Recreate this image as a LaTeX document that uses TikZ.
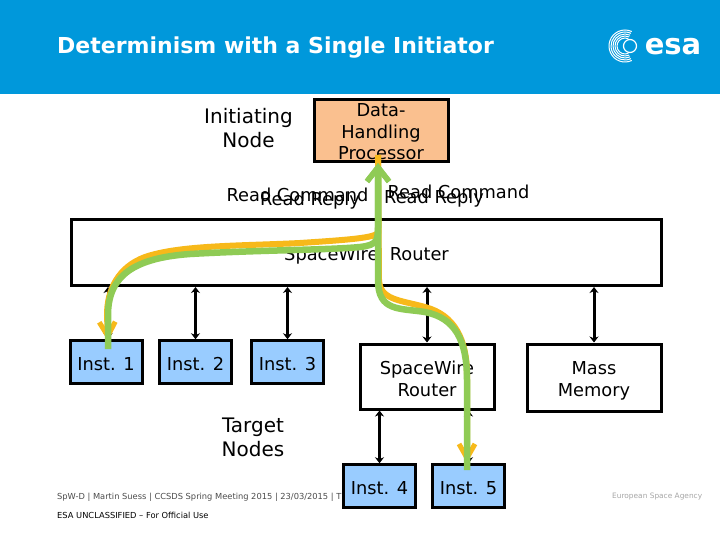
\documentclass[tikz,border=0pt]{standalone}
\usepackage{fontspec}
\setmainfont{DejaVu Sans}
\usetikzlibrary{arrows.meta}
\definecolor{hdr}{HTML}{0098DB}
\definecolor{dhpfill}{HTML}{FAC08F}
\definecolor{instfill}{HTML}{99CCFF}
\definecolor{orangeline}{HTML}{F7B91A}
\definecolor{greenline}{HTML}{8FCB55}
\newcommand{\dn}[1]{\rule{0pt}{#1pt}}
\tikzset{
 x=1pt,y=-1pt,
 lbl/.style={font=\fontsize{17.8}{22}\selectfont,align=center,inner sep=0pt,text=black},
 biglbl/.style={font=\fontsize{20}{24}\selectfont,align=center,inner sep=0pt,text=black},
 whitebox/.style={lbl,draw=black,line width=3pt,fill=white,minimum width=#1},
 instbox/.style={lbl,draw=black,line width=3pt,fill=instfill,minimum width=72pt,minimum height=42.5pt},
 conn/.style={draw=black,line width=3pt,{Stealth[length=6pt,width=9pt]}-{Stealth[length=6pt,width=9pt]}},
 cmdpath/.style={draw=orangeline,line width=6pt,-{Straight Barb[length=14pt,width=16pt,line width=5pt]}},
 replypath/.style={draw=greenline,line width=6.5pt,-{Straight Barb[length=14pt,width=22pt,line width=5.5pt]}},
 foot/.style={font=\fontsize{8.3}{10}\selectfont,inner sep=0pt,anchor=west},
}
\begin{document}
\begin{tikzpicture}
\useasboundingbox (0,0) rectangle (720,540);
\fill[white] (0,0) rectangle (720,540);
\fill[hdr] (0,0) rectangle (720,94);
\node[font=\bfseries\fontsize{22}{26}\selectfont,text=white,inner sep=0pt,anchor=west] (title) at (57,48) {Determinism with a Single Initiator};
% logo
\begin{scope}[white,line width=1pt]
 \foreach \r in {8,10,12,14,16}{ \draw (625,46) ++(65:\r) arc[start angle=65,end angle=295,radius=\r]; }
 \draw[line width=1.2pt] (630,46) circle[radius=6.5];
\end{scope}
\node[font=\bfseries\fontsize{29}{30}\selectfont,text=white,inner sep=0pt] (esa) at (673,47) {esa};
% footer
\node[foot,text=black!70] (f1) at (57,497) {SpW-D | Martin Suess | CCSDS Spring Meeting 2015 | 23/03/2015 | T};
\node[foot,text=black] (f2) at (57,515) {ESA UNCLASSIFIED – For Official Use};
\node[foot,text=black!35,font=\fontsize{7.4}{9}\selectfont] (f3) at (612,497) {European Space Agency};
% boxes
\node[biglbl] (init) at (248.5,128) {Initiating\\Node};
\node[lbl,draw=black,line width=3pt,fill=dhpfill,minimum width=134pt,minimum height=62pt,font=\fontsize{17.8}{21.5}\selectfont] (dhp) at (381,131) {\dn{15}Data-\\Handling\\Processor};
\node[whitebox=590pt,minimum height=66pt] (main) at (366.5,252.5) {\dn{20}SpaceWire~~Router};
\node[instbox] (i1) at (106,362) {\dn{17}Inst. 1};
\node[instbox] (i2) at (195.5,362) {\dn{17}Inst. 2};
\node[instbox] (i3) at (287.5,362) {\dn{17}Inst. 3};
\node[whitebox=134pt,minimum height=65pt] (r2) at (427,376.5) {\dn{18}SpaceWire\\Router};
\node[whitebox=134pt,minimum height=67pt] (mm) at (594,377.5) {\dn{20}Mass\\Memory};
\node[instbox] (i4) at (379.5,486) {\dn{17}Inst. 4};
\node[instbox] (i5) at (468.5,486) {\dn{17}Inst. 5};
\node[biglbl] (tn) at (253,437) {Target\\Nodes};
% labels
\node[lbl] (rc1) at (297.5,195) {Read Command};
\node[lbl] (rr1) at (310,201) {Read Reply};
\node[lbl] (rc2) at (458.5,192) {Read Command};
\node[lbl] (rr2) at (434,199) {Read Reply};
% connectors
\draw[conn] ([xshift=2pt]i1.north) -- ([xshift=2pt]i1.north |- main.south);
\draw[conn] (i2.north) -- (i2.north |- main.south);
\draw[conn] (i3.north) -- (i3.north |- main.south);
\draw[conn] (r2.north) -- (r2.north |- main.south);
\draw[conn] (mm.north) -- (mm.north |- main.south);
\draw[conn] (i4.north) -- (i4.north |- r2.south);
\draw[conn] (i5.north) -- (i5.north |- r2.south);
% data paths
\coordinate (ds) at (378,155);
\coordinate (gtop) at (378,163);
\coordinate (t1) at (108,341);
\coordinate (s1) at (108,349);
\coordinate (t5) at (467,463);
\coordinate (s5) at (467,470);
\draw[cmdpath] (ds) -- (378,232) .. controls (378,238) and (345,240) .. (300,243) .. controls (240,246) and (180,245) .. (145,257) .. controls (118,267) and (107,290) .. (107,315) -- (t1);
\draw[cmdpath] (ds) -- (379,280) .. controls (380,300) and (400,300) .. (425,307) .. controls (455,315) and (467,340) .. (467,375) -- (t5);
\draw[replypath] (s1) -- (108,315) .. controls (108,275) and (135,258) .. (190,254) .. controls (260,250) and (330,250) .. (360,247) .. controls (378,245) and (378,240) .. (378,225) -- (gtop);
\draw[replypath] (s5) -- (467,380) .. controls (467,340) and (455,318) .. (425,312) .. controls (400,308) and (378,312) .. (378,280) -- (gtop);
\end{tikzpicture}
\end{document}
